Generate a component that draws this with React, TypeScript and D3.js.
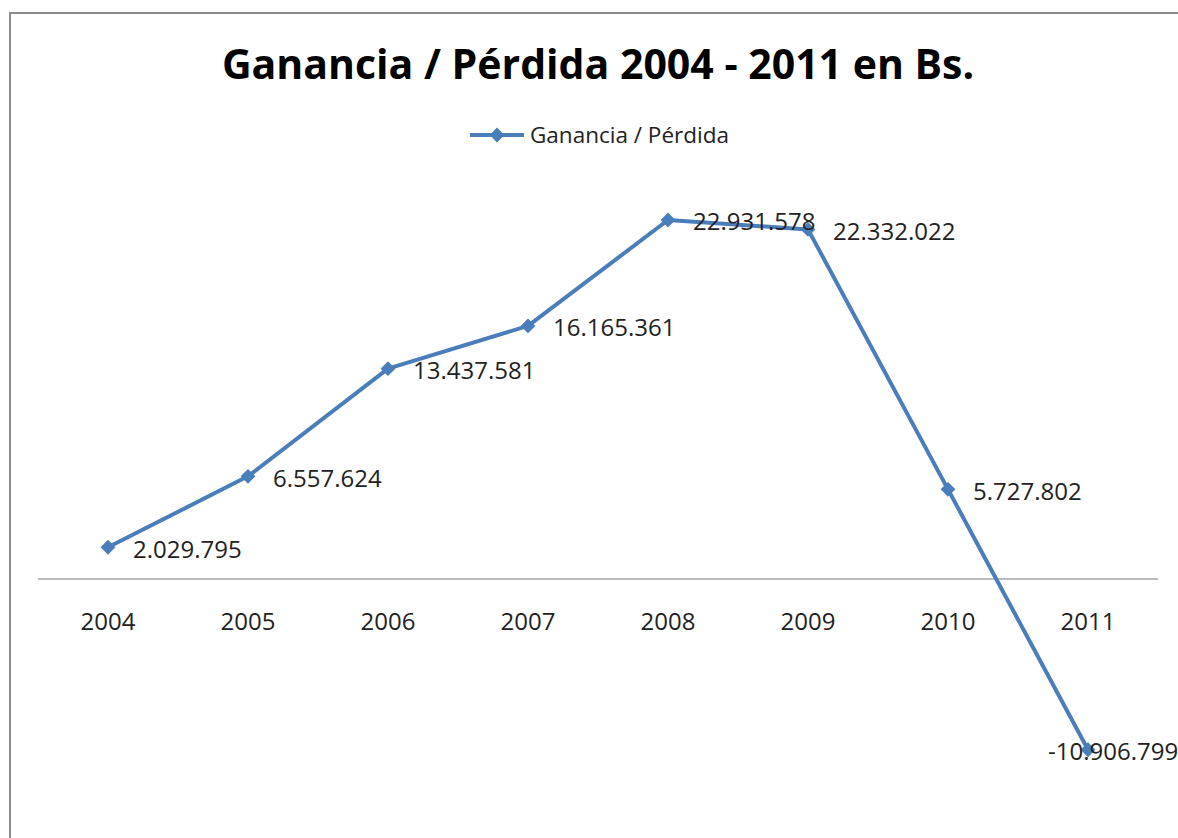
import React from 'react';
import * as d3 from 'd3';

const years = ['2004', '2005', '2006', '2007', '2008', '2009', '2010', '2011'];
const values = [2029795, 6557624, 13437581, 16165361, 22931578, 22332022, 5727802, -10906799];
const seriesName = 'Ganancia / Pérdida';
const title = 'Ganancia / Pérdida 2004 - 2011 en Bs.';

const width = 1178;
const height = 838;
const lineColor = '#4A7EBB';
const font = '"Open Sans", sans-serif';

// the last label was dragged to the left in the original
const labelDx = [25, 25, 25, 25, 25, 25, 25, -40];

const fmt = (v: number) => {
  const s = Math.abs(v).toString().replace(/\B(?=(\d{3})+(?!\d))/g, '.');
  return (v < 0 ? '-' : '') + s;
};

const App = () => {
  const x = d3.scalePoint().domain(years).range([108, 1088]);
  const y = d3.scaleLinear().domain([0, 22931578]).range([579, 220]);

  const line = d3
    .line<number>()
    .x((_, i) => x(years[i]) as number)
    .y(d => y(d));

  const diamond = d3.symbol().type(d3.symbolSquare).size(110)();

  return (
    <svg
      width={width}
      height={height}
      style={{ position: 'absolute', left: 0, top: 0, background: '#fff' }}
    >
      <rect x={0} y={0} width={width} height={height} fill='#fff' />
      <line x1={10} x2={10} y1={12} y2={height} stroke='#8c8c8c' strokeWidth={2} />
      <line x1={9} x2={width} y1={13} y2={13} stroke='#8c8c8c' strokeWidth={2} />

      <text
        x={598}
        y={79}
        textAnchor='middle'
        fontFamily={font}
        fontWeight='bold'
        fontSize={41}
        fill='#000'
      >
        {title}
      </text>

      <g transform='translate(470, 135)'>
        <line x1={0} x2={54} y1={0} y2={0} stroke={lineColor} strokeWidth={4} />
        <path d={diamond ?? ''} transform='translate(27,0) rotate(45)' fill={lineColor} />
        <text x={60} y={0} dy='.35em' fontFamily={font} fontSize={22.5} fill='#222'>
          {seriesName}
        </text>
      </g>

      <line x1={38} x2={1158} y1={y(0)} y2={y(0)} stroke='#a6a6a6' strokeWidth={1.5} />
      {years.map(yr => (
        <text
          key={yr}
          x={x(yr)}
          y={622}
          dy='.35em'
          textAnchor='middle'
          fontFamily={font}
          fontSize={24}
          fill='#222'
        >
          {yr}
        </text>
      ))}

      <path
        d={line(values) ?? ''}
        fill='none'
        stroke={lineColor}
        strokeWidth={4}
        strokeLinejoin='round'
      />
      {values.map((v, i) => (
        <path
          key={i}
          d={diamond ?? ''}
          transform={`translate(${x(years[i])},${y(v)}) rotate(45)`}
          fill={lineColor}
        />
      ))}
      {values.map((v, i) => (
        <text
          key={i}
          x={(x(years[i]) as number) + labelDx[i]}
          y={y(v) + 2}
          dy='.35em'
          fontFamily={font}
          fontSize={24}
          fill='#222'
        >
          {fmt(v)}
        </text>
      ))}
    </svg>
  );
};

export default App;
